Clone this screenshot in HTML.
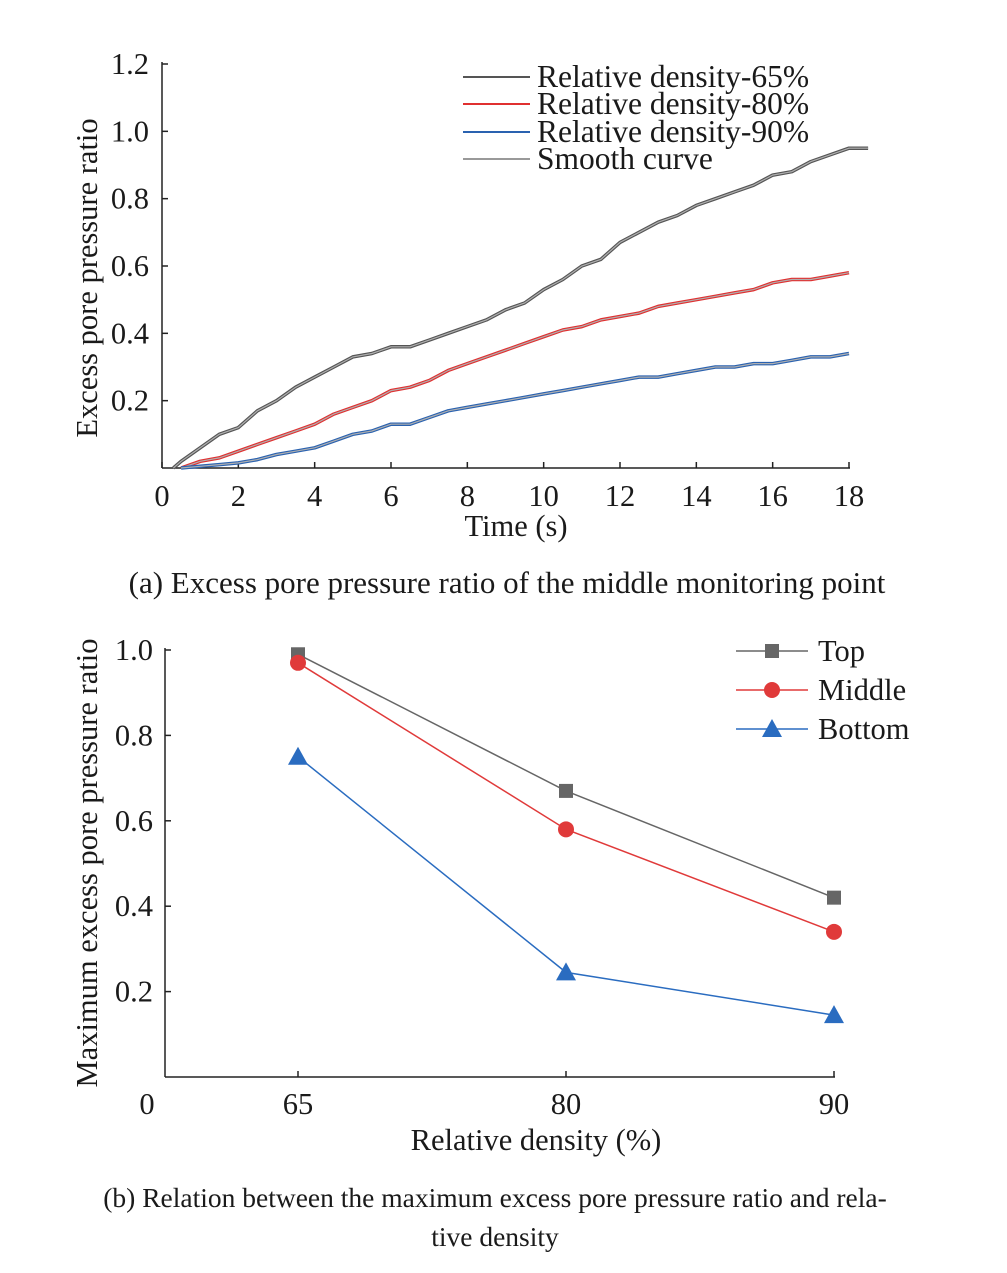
<!DOCTYPE html>
<html><head><meta charset="utf-8">
<style>
body{margin:0;background:#fff;}
svg text{font-family:"Liberation Serif",serif;fill:#1a1a1a;}
</style></head>
<body>
<svg id="svg" width="1007" height="1268" viewBox="0 0 1007 1268" xmlns="http://www.w3.org/2000/svg">
<g id="ga"></g>
<g id="gb"></g>
<text x="507" y="593" font-size="31" text-anchor="middle">(a) Excess pore pressure ratio of the middle monitoring point</text>
<text x="495" y="1207" font-size="27.5" text-anchor="middle">(b) Relation between the maximum excess pore pressure ratio and rela-</text>
<text x="495" y="1246" font-size="27.5" text-anchor="middle">tive density</text>
</svg>
<script>
// ---- Chart (a) data ----
const tA=[0.3,0.5,1,1.5,2,2.5,3,3.5,4,4.5,5,5.5,6,6.5,7,7.5,8,8.5,9,9.5,10,10.5,11,11.5,12,12.5,13,13.5,14,14.5,15,15.5,16,16.5,17,17.5,18,18.5];
const d65=[0,0.02,0.06,0.1,0.12,0.17,0.2,0.24,0.27,0.3,0.33,0.34,0.36,0.36,0.38,0.4,0.42,0.44,0.47,0.49,0.53,0.56,0.6,0.62,0.67,0.7,0.73,0.75,0.78,0.8,0.82,0.84,0.87,0.88,0.91,0.93,0.95,0.95];
const tB=[0.5,1,1.5,2,2.5,3,3.5,4,4.5,5,5.5,6,6.5,7,7.5,8,8.5,9,9.5,10,10.5,11,11.5,12,12.5,13,13.5,14,14.5,15,15.5,16,16.5,17,17.5,18];
const d80=[0,0.02,0.03,0.05,0.07,0.09,0.11,0.13,0.16,0.18,0.2,0.23,0.24,0.26,0.29,0.31,0.33,0.35,0.37,0.39,0.41,0.42,0.44,0.45,0.46,0.48,0.49,0.5,0.51,0.52,0.53,0.55,0.56,0.56,0.57,0.58];
const d90=[0,0.005,0.01,0.015,0.025,0.04,0.05,0.06,0.08,0.1,0.11,0.13,0.13,0.15,0.17,0.18,0.19,0.2,0.21,0.22,0.23,0.24,0.25,0.26,0.27,0.27,0.28,0.29,0.3,0.3,0.31,0.31,0.32,0.33,0.33,0.34];
const xTicksA=[0,2,4,6,8,10,12,14,16,18];
const yTicksA=[0.2,0.4,0.6,0.8,1.0,1.2];
// ---- Chart (b) data ----
const catsB=["65","80","90"];
const topB=[0.99,0.67,0.42];
const midB=[0.97,0.58,0.34];
const botB=[0.75,0.245,0.145];
const yTicksB=[0.2,0.4,0.6,0.8,1.0];

const NS="http://www.w3.org/2000/svg";
const FS=30.5;
function mk(p,tag,a){const e=document.createElementNS(NS,tag);for(const k in a)e.setAttribute(k,a[k]);p.appendChild(e);return e;}
const ga=document.getElementById('ga'), gb=document.getElementById('gb');

const xA=v=>162+v*(849-162)/18, yA=v=>468-v*(468-64)/1.2;
let e;
e=mk(ga,'line',{x1:162,y1:468,x2:850,y2:468,stroke:'#222','stroke-width':1.5});


e=mk(ga,'line',{x1:162,y1:468,x2:162,y2:62,stroke:'#222','stroke-width':1.5});


xTicksA.forEach(v=>{
 e=mk(ga,'line',{x1:xA(v),y1:468,x2:xA(v),y2:462,stroke:'#222','stroke-width':1.5});
 
 
 e=mk(ga,'text',{x:xA(v),y:506,'font-size':FS,'text-anchor':'middle'});e.textContent=v;
 
 
});
yTicksA.forEach(v=>{
 e=mk(ga,'line',{x1:162,y1:yA(v),x2:168,y2:yA(v),stroke:'#222','stroke-width':1.5});
 
 
 e=mk(ga,'text',{x:149,y:yA(v)+10,'font-size':FS,'text-anchor':'end'});e.textContent=v.toFixed(1);
 
 
});
e=mk(ga,'text',{x:0,y:0,'font-size':FS,'text-anchor':'middle',transform:'translate(97,278) rotate(-90)'});e.textContent='Excess pore pressure ratio';


e=mk(ga,'text',{x:516,y:536,'font-size':FS,'text-anchor':'middle'});e.textContent='Time (s)';


function path(xs,ys,fx,fy){return xs.map((x,i)=>(i?'L':'M')+fx(x).toFixed(1)+','+fy(ys[i]).toFixed(1)).join('');}
[[tA,d65,'#555','series-65'],[tB,d80,'#e03030','series-80'],[tB,d90,'#2a62b0','series-90']].forEach(s=>{
 e=mk(ga,'path',{d:path(s[0],s[1],xA,yA),fill:'none',stroke:s[2],'stroke-width':3.5,'stroke-linejoin':'round'});
 
 
 e=mk(ga,'path',{d:path(s[0],s[1],xA,yA),fill:'none',stroke:'#b0b0b0','stroke-width':1.2});
 
 
});
[['#555','Relative density-65%',77],['#e03030','Relative density-80%',104],['#2a62b0','Relative density-90%',132],['#999','Smooth curve',159]].forEach(l=>{
 e=mk(ga,'line',{x1:463,y1:l[2],x2:530,y2:l[2],stroke:l[0],'stroke-width':2});
 
 
 e=mk(ga,'text',{x:537,y:l[2]+10,'font-size':31.5});e.textContent=l[1];
 
 
});

const xB=i=>298+i*268, yB=v=>1077-v*(1077-650);
e=mk(gb,'line',{x1:165,y1:1077,x2:835,y2:1077,stroke:'#222','stroke-width':1.5});


e=mk(gb,'line',{x1:165,y1:1077,x2:165,y2:648,stroke:'#222','stroke-width':1.5});


e=mk(gb,'text',{x:147,y:1114,'font-size':FS,'text-anchor':'middle'});e.textContent='0';


catsB.forEach((c,i)=>{
 e=mk(gb,'line',{x1:xB(i),y1:1077,x2:xB(i),y2:1071,stroke:'#222','stroke-width':1.5});
 
 
 e=mk(gb,'text',{x:xB(i),y:1114,'font-size':FS,'text-anchor':'middle'});e.textContent=c;
 
 
});
yTicksB.forEach(v=>{
 e=mk(gb,'line',{x1:165,y1:yB(v),x2:171,y2:yB(v),stroke:'#222','stroke-width':1.5});
 
 
 e=mk(gb,'text',{x:153,y:yB(v)+10,'font-size':FS,'text-anchor':'end'});e.textContent=v.toFixed(1);
 
 
});
e=mk(gb,'text',{x:0,y:0,'font-size':FS,'text-anchor':'middle',transform:'translate(97,863) rotate(-90)'});e.textContent='Maximum excess pore pressure ratio';


e=mk(gb,'text',{x:536,y:1150,'font-size':FS,'text-anchor':'middle'});e.textContent='Relative density (%)';


function marker(g,type,x,y,c){
 if(type==='sq') return mk(g,'rect',{x:x-7,y:y-7,width:14,height:14,fill:c});
 if(type==='ci') return mk(g,'circle',{cx:x,cy:y,r:8,fill:c});
 return mk(g,'polygon',{points:`${x},${y-10} ${x+10},${y+8} ${x-10},${y+8}`,fill:c});
}
[[topB,'#666','sq','series-top'],[midB,'#e03a3a','ci','series-middle'],[botB,'#2a6cc0','tr','series-bottom']].forEach(s=>{
 e=mk(gb,'polyline',{points:s[0].map((v,i)=>xB(i)+','+yB(v)).join(' '),fill:'none',stroke:s[1],'stroke-width':1.5});
 
 
 s[0].forEach((v,i)=>{
  e=marker(gb,s[2],xB(i),yB(v),s[1]);
  
  
 });
});
[['#666','sq','Top',651],['#e03a3a','ci','Middle',690],['#2a6cc0','tr','Bottom',729]].forEach(l=>{
 e=mk(gb,'line',{x1:736,y1:l[3],x2:808,y2:l[3],stroke:l[0],'stroke-width':1.5});
 
 
 e=marker(gb,l[1],772,l[3],l[0]);
 
 
 e=mk(gb,'text',{x:818,y:l[3]+10,'font-size':FS});e.textContent=l[2];
 
 
});
</script>
</body></html>
